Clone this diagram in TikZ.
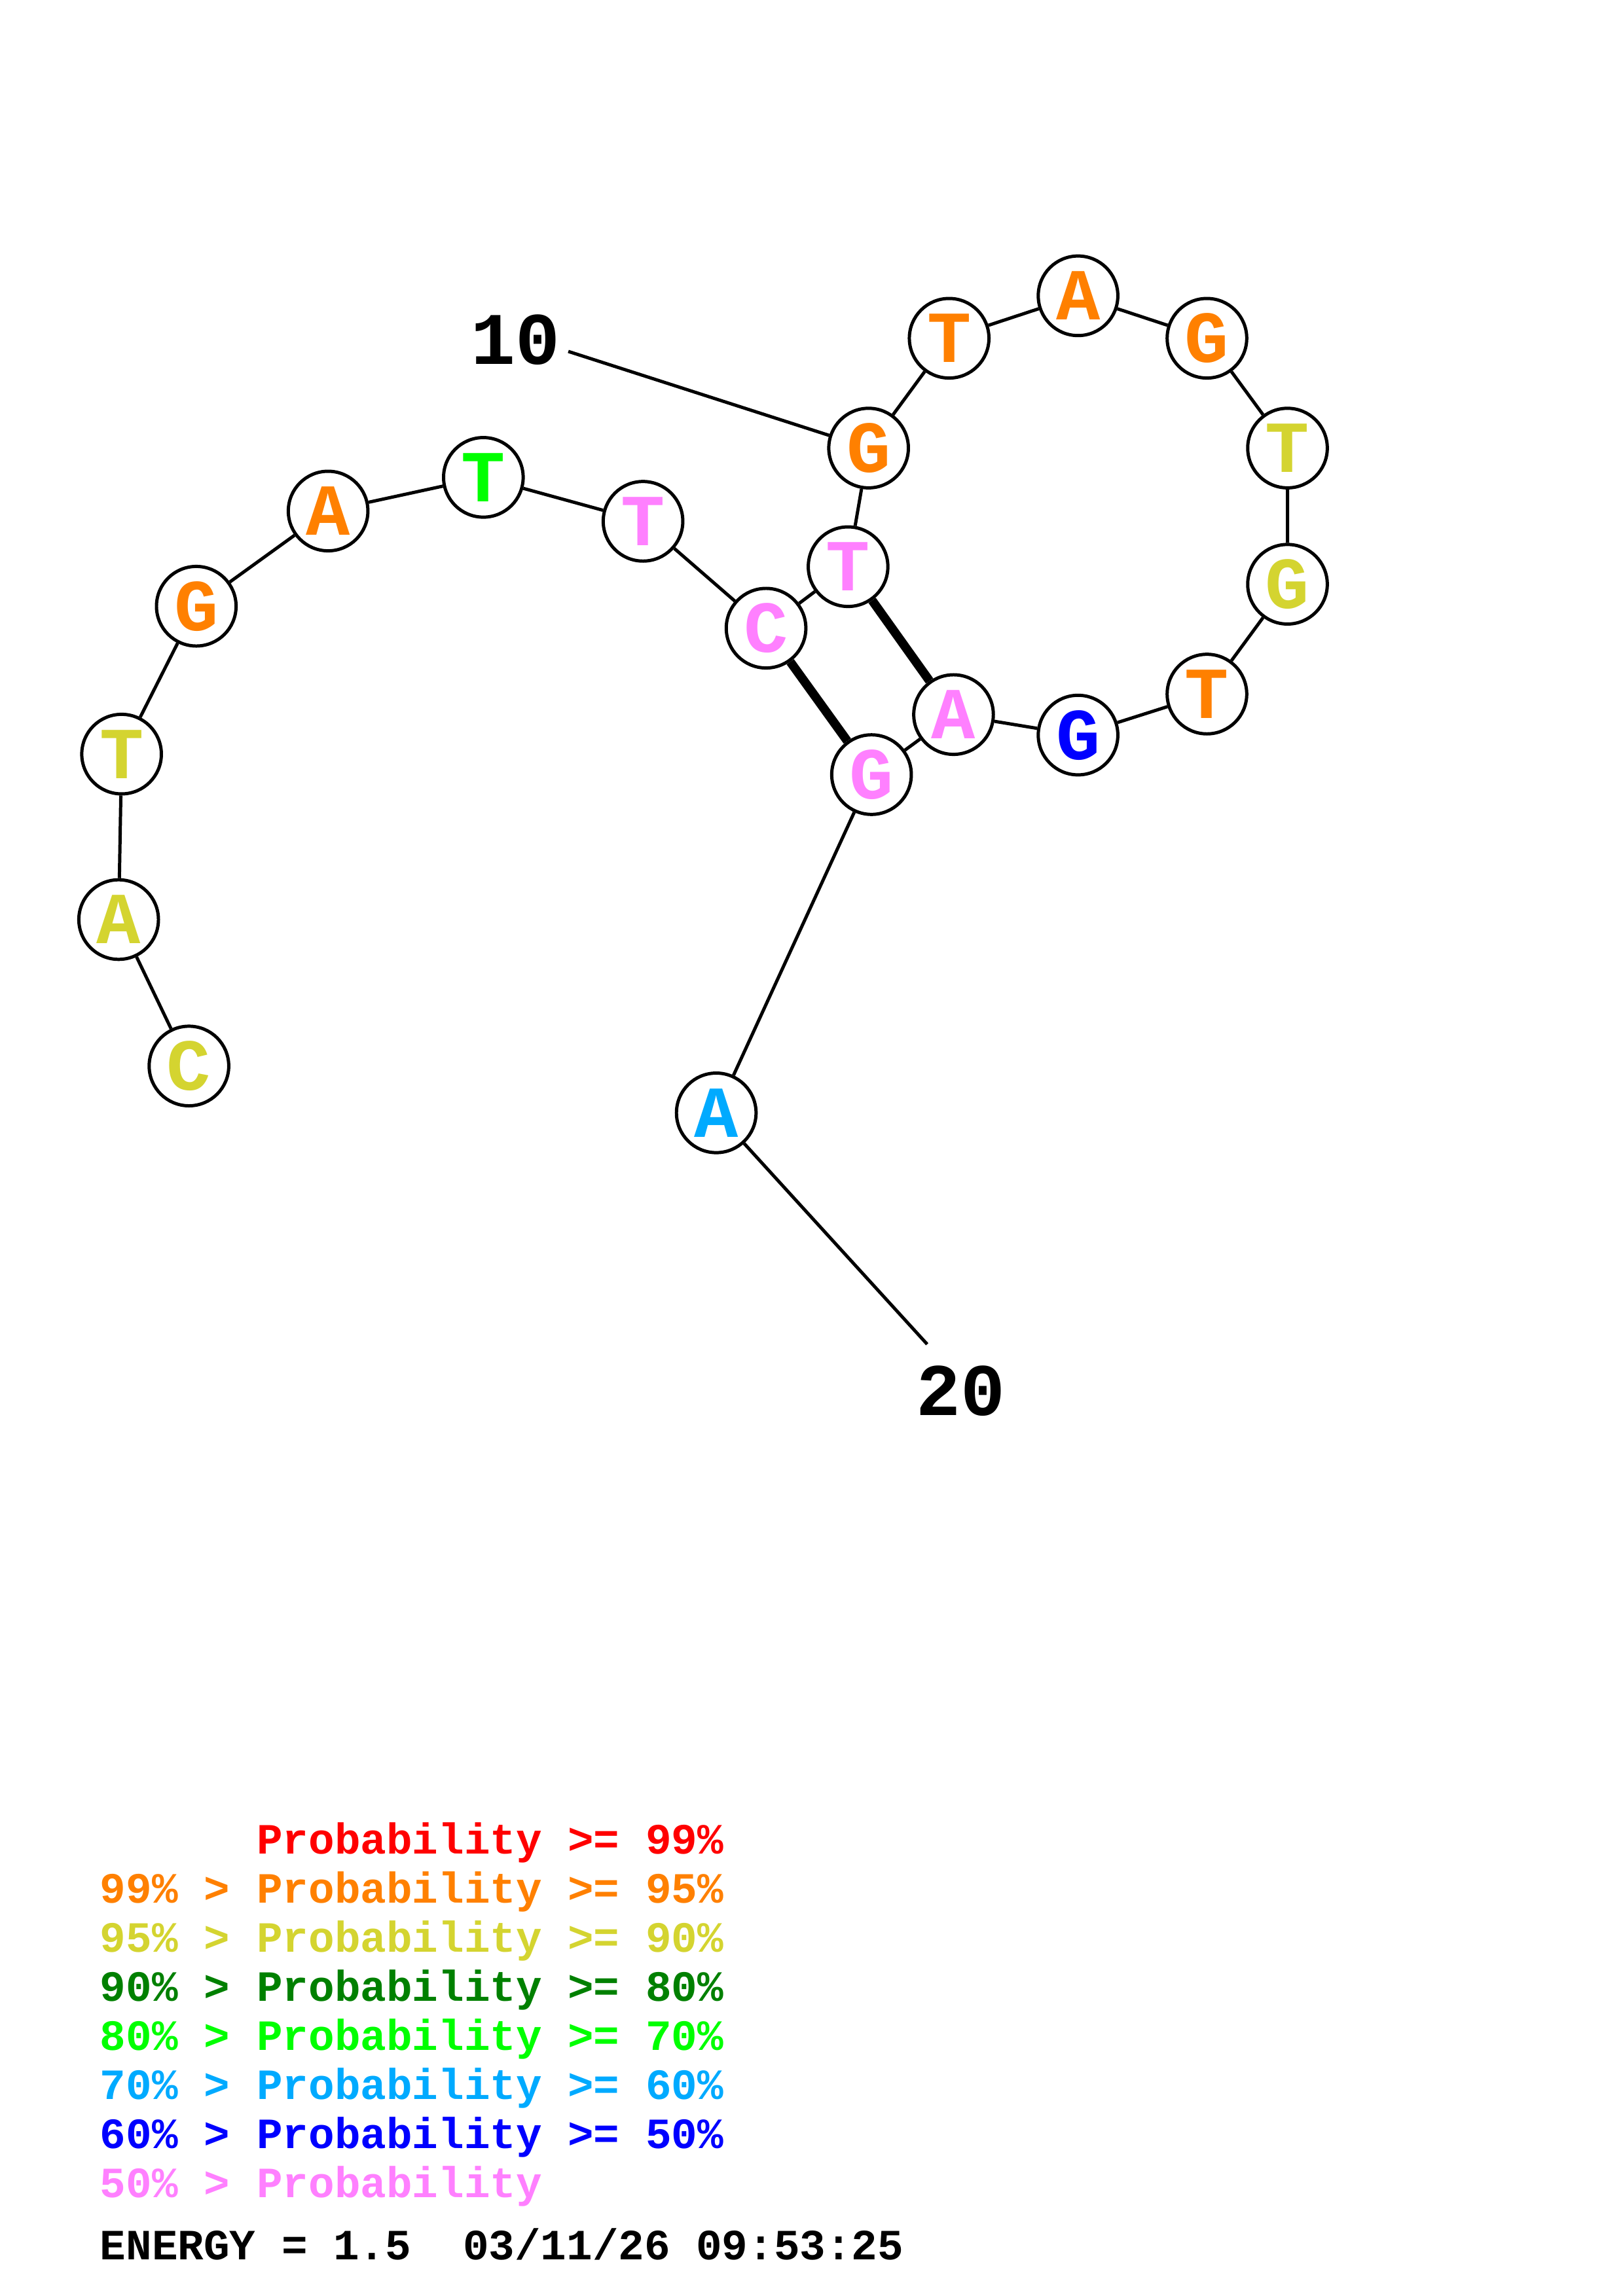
\documentclass[tikz,border=0pt]{standalone}
\usepackage{fontspec}
\setmonofont{Liberation Mono}
\usepackage{tikz}

\definecolor{pr99}{RGB}{255,0,0}
\definecolor{pr95}{RGB}{255,128,0}
\definecolor{pr90}{RGB}{212,212,48}
\definecolor{pr80}{RGB}{0,128,0}
\definecolor{pr70}{RGB}{0,255,0}
\definecolor{pr60}{RGB}{0,170,255}
\definecolor{pr50}{RGB}{0,0,255}
\definecolor{prlow}{RGB}{255,128,255}

\begin{document}
\begin{tikzpicture}[x=0.018953cm,y=-0.018953cm,
  base/.style={draw,circle,line width=1.2pt,minimum size=1.03cm,inner sep=0pt,
  fill=white,font=\ttfamily\bfseries\fontsize{27}{27}\selectfont},
  backbone/.style={line width=1.2pt},pair/.style={line width=3.3pt},
  numlabel/.style={inner sep=0pt,font=\ttfamily\bfseries\fontsize{27.3}{27.3}\selectfont},
  legend/.style={anchor=base west,inner sep=0pt,font=\ttfamily\bfseries\fontsize{15.9}{15.9}\selectfont}]
  \useasboundingbox (0,0) rectangle (1108,1568);
  \node[base,text=pr90] (b1) at (129,728) {C};
  \node[base,text=pr90] (b2) at (81,628) {A};
  \node[base,text=pr90] (b3) at (83,515) {T};
  \node[base,text=pr95] (b4) at (134,414) {G};
  \node[base,text=pr95] (b5) at (224,349) {A};
  \node[base,text=pr70] (b6) at (330,326) {T};
  \node[base,text=prlow] (b7) at (439,356) {T};
  \node[base,text=prlow] (b8) at (523,429) {C};
  \node[base,text=prlow] (b9) at (579,387) {T};
  \node[base,text=pr95] (b10) at (593,306) {G};
  \node[base,text=pr95] (b11) at (648,231) {T};
  \node[base,text=pr95] (b12) at (736,202) {A};
  \node[base,text=pr95] (b13) at (824,231) {G};
  \node[base,text=pr90] (b14) at (879,306) {T};
  \node[base,text=pr90] (b15) at (879,399) {G};
  \node[base,text=pr95] (b16) at (824,474) {T};
  \node[base,text=pr50] (b17) at (736,502) {G};
  \node[base,text=prlow] (b18) at (651,488) {A};
  \node[base,text=prlow] (b19) at (595,529) {G};
  \node[base,text=pr60] (b20) at (489,760) {A};
  \draw[backbone] (b1) -- (b2) -- (b3) -- (b4) -- (b5) -- (b6) -- (b7) -- (b8) -- (b9) -- (b10)
    -- (b11) -- (b12) -- (b13) -- (b14) -- (b15) -- (b16) -- (b17) -- (b18) -- (b19) -- (b20);
  \draw[pair] (b8) -- (b19);
  \draw[pair] (b9) -- (b18);
  % position labels
  \node[numlabel] (lab10) at (352,232) {10};
  \coordinate (tick10) at (388,240);
  \draw[backbone] (tick10) -- (b10);
  \node[numlabel] (lab20) at (656,950) {20};
  \coordinate (tick20) at (633,918);
  \draw[backbone] (b20) -- (tick20);
  % legend
  \node[legend,text=pr99] (p99) at (175,1266) {Probability >= 99\%};
  \node[legend,text=pr95] (q95) at (68,1299.5) {99\% >};
  \node[legend,text=pr95] (p95) at (175,1299.5) {Probability >= 95\%};
  \node[legend,text=pr90] (q90) at (68,1333) {95\% >};
  \node[legend,text=pr90] (p90) at (175,1333) {Probability >= 90\%};
  \node[legend,text=pr80] (q80) at (68,1366.5) {90\% >};
  \node[legend,text=pr80] (p80) at (175,1366.5) {Probability >= 80\%};
  \node[legend,text=pr70] (q70) at (68,1400) {80\% >};
  \node[legend,text=pr70] (p70) at (175,1400) {Probability >= 70\%};
  \node[legend,text=pr60] (q60) at (68,1433.5) {70\% >};
  \node[legend,text=pr60] (p60) at (175,1433.5) {Probability >= 60\%};
  \node[legend,text=pr50] (q50) at (68,1467) {60\% >};
  \node[legend,text=pr50] (p50) at (175,1467) {Probability >= 50\%};
  \node[legend,text=prlow] (q00) at (68,1500.5) {50\% >};
  \node[legend,text=prlow] (p00) at (175,1500.5) {Probability};
  \node[legend] (energy) at (68,1543) {ENERGY = 1.5\ \ 03/11/26 09:53:25};
\end{tikzpicture}
\end{document}
